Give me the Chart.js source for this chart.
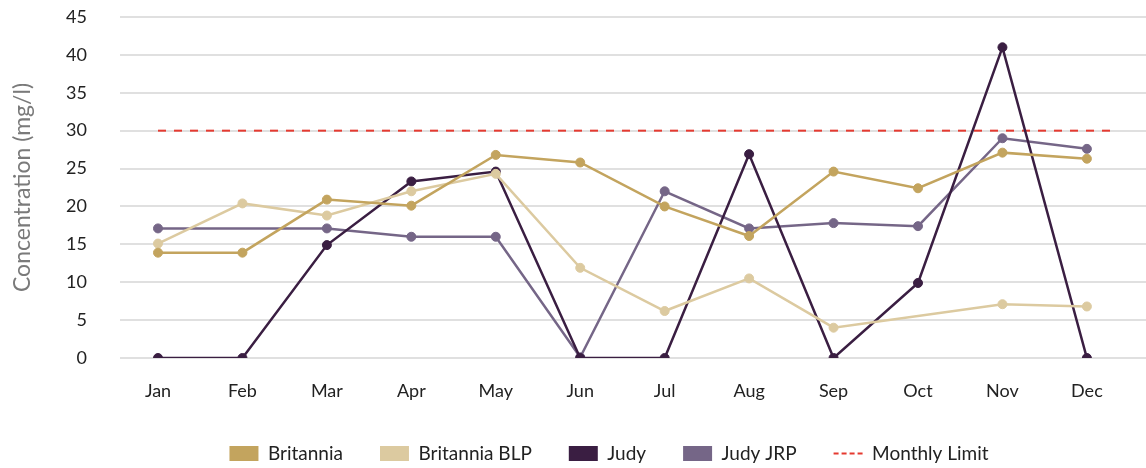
<!DOCTYPE html>
<html>
<head>
<meta charset="utf-8">
<script src="https://cdn.jsdelivr.net/npm/chart.js@4.4.1/dist/chart.umd.min.js"></script>
<style>
  html, body { margin: 0; padding: 0; background: #fff; }
  #wrap { width: 1146px; height: 468px; }
  canvas { display: block; }
</style>
</head>
<body>
<div id="wrap"><canvas id="chart" width="1146" height="468"></canvas></div>
<script>
// Monthly concentration readings (mg/l)
const months = ['Jan', 'Feb', 'Mar', 'Apr', 'May', 'Jun', 'Jul', 'Aug', 'Sep', 'Oct', 'Nov', 'Dec'];
const britannia    = [13.9, 13.9, 20.9, 20.1, 26.8, 25.8, 20.0, 16.1, 24.6, 22.4, 27.1, 26.3];
const britanniaBLP = [15.1, 20.4, 18.8, 22.0, 24.3, 11.9, 6.2, 10.5, 4.0, null, 7.1, 6.8];
const judy         = [0, 0, 14.9, 23.3, 24.6, 0, 0, 26.9, 0, 9.9, 41.0, 0];
const judyJRP      = [17.1, null, 17.1, 16.0, 16.0, 0.1, 22.0, 17.1, 17.8, 17.4, 29.0, 27.6];
const monthlyLimit = 30;
const limitEnd = 11.35; // dashed limit runs a little past Dec
const yTicks = [0, 5, 10, 15, 20, 25, 30, 35, 40, 45];

const FONT = 'Lato, "Noto Sans", sans-serif';
const CLEAR = 'rgba(0,0,0,0)';

function toPoints(values) {
  return values.map((v, i) => ({ x: i, y: v }));
}

function series(label, values, color) {
  return {
    label: label,
    data: toPoints(values),
    borderColor: color,
    backgroundColor: color,
    pointBackgroundColor: color,
    pointBorderColor: color,
    borderWidth: 2.5,
    pointRadius: 4.5,
    pointBorderWidth: 1,
    spanGaps: true,
    tension: 0
  };
}

const datasets = [
  series('Britannia', britannia, '#c3a45e'),
  series('Britannia BLP', britanniaBLP, '#dccaa0'),
  series('Judy', judy, '#3a1e42'),
  series('Judy JRP', judyJRP, '#756687'),
  {
    label: 'Monthly Limit',
    data: [{ x: 0, y: monthlyLimit }, { x: limitEnd, y: monthlyLimit }],
    borderColor: '#e53a30',
    backgroundColor: '#e53a30',
    borderWidth: 2,
    borderDash: [8, 8],
    pointRadius: 0
  }
];

// legend in the reference sits a bit right of the page centre
const legendShift = {
  id: 'legendShift',
  afterLayout(c) {
    c.legend.left += 36;
    c.legend.right += 36;
  }
};

const ctx = document.getElementById('chart');
const chart = new Chart(ctx, {
  type: 'line',
  data: { datasets: datasets },
  plugins: [legendShift],
  options: {
    responsive: false,
    animation: false,
    layout: { autoPadding: false, padding: { top: 17, right: 0, bottom: -5, left: 0 } },
    plugins: {
      tooltip: { enabled: false },
      legend: {
        position: 'bottom',
        labels: {
          usePointStyle: true,
          pointStyleWidth: 29,
          boxHeight: 15,
          padding: 37,
          color: '#222',
          font: { family: FONT, size: 19 },
          generateLabels: function (c) {
            const items = Chart.defaults.plugins.legend.labels.generateLabels(c);
            return items.map(item => {
              const ds = c.data.datasets[item.datasetIndex];
              if (ds.borderDash) {
                item.pointStyle = 'line';
                item.lineDash = [5, 3];
                item.lineWidth = 2;
                item.strokeStyle = ds.borderColor;
              } else {
                item.pointStyle = 'rect';
                item.lineWidth = 0;
                item.fillStyle = ds.borderColor;
              }
              return item;
            });
          }
        }
      }
    },
    scales: {
      x: {
        type: 'linear',
        min: -0.45,
        max: 11.7,
        afterFit: scale => {
          scale.height = 49;
          scale.paddingLeft = 0;
          scale.paddingRight = 0;
        },
        grid: { display: false, drawTicks: true, tickLength: 22, tickColor: CLEAR },
        border: { display: false },
        ticks: {
          stepSize: 1,
          includeBounds: false,
          autoSkip: false,
          maxRotation: 0,
          padding: 0,
          color: '#222',
          font: { family: FONT, size: 18 },
          callback: v => (Number.isInteger(v) && months[v]) ? months[v] : ''
        }
      },
      y: {
        min: 0,
        max: 45,
        afterBuildTicks: scale => { scale.ticks = yTicks.map(v => ({ value: v })); },
        afterFit: scale => { scale.width = 120; },
        grid: { color: '#e0e0e0', lineWidth: 2, drawTicks: true, tickLength: 33, tickColor: CLEAR },
        border: { display: false },
        ticks: {
          padding: 0,
          color: '#222',
          font: { family: FONT, size: 18 }
        },
        title: {
          display: true,
          text: 'Concentration (mg/l)',
          color: '#7a7a7a',
          font: { family: FONT, size: 23 },
          padding: { top: 9, bottom: 0 }
        }
      }
    }
  }
});
</script>
</body>
</html>
